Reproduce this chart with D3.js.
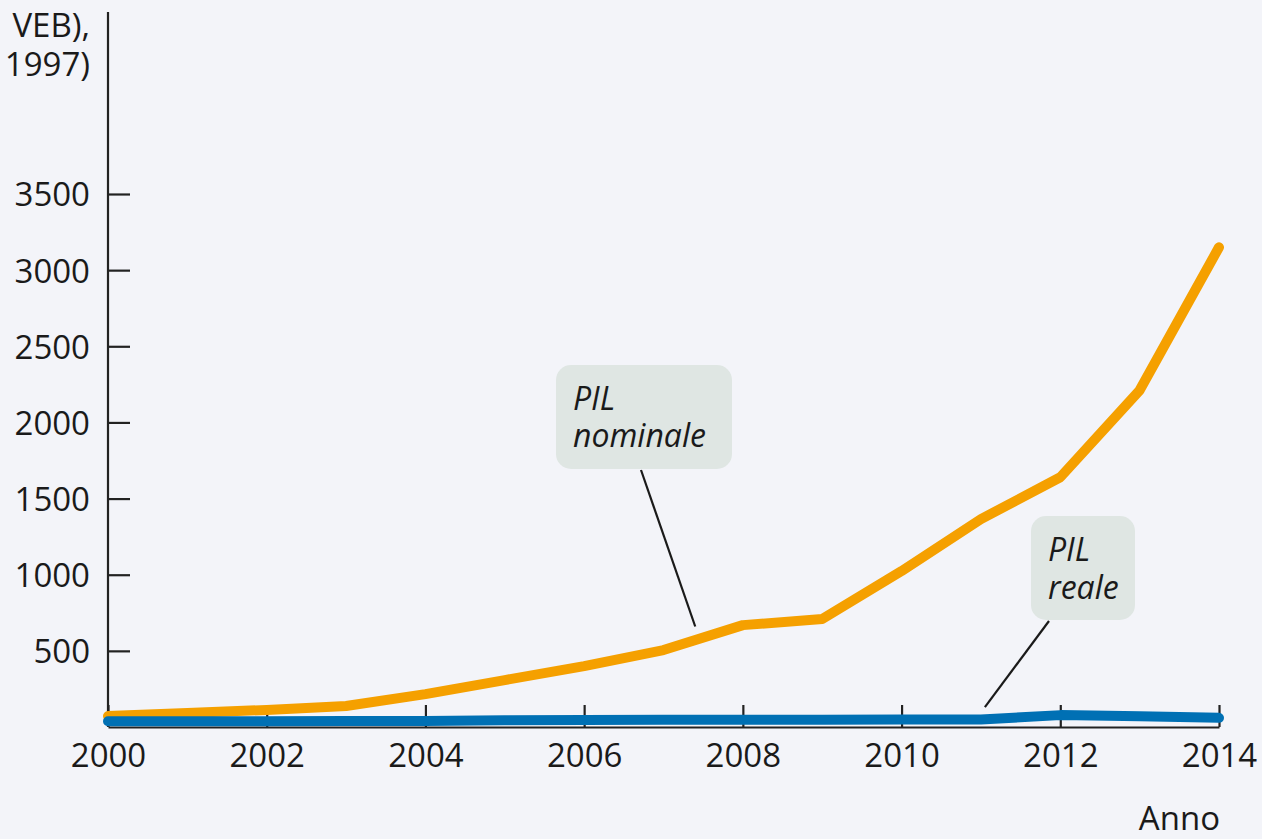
<!DOCTYPE html>
<html>
<head>
<meta charset="utf-8">
<script src="https://cdn.jsdelivr.net/npm/d3@7"></script>
<style>
  html, body { margin: 0; padding: 0; background: #f3f4f9; }
  svg { display: block; }
  text { font-family: "Open Sans", sans-serif; fill: #1a1a1a; }
</style>
</head>
<body>
<svg id="chart" width="1262" height="839"></svg>
<script>
const years = [2000, 2001, 2002, 2003, 2004, 2005, 2006, 2007, 2008, 2009, 2010, 2011, 2012, 2013, 2014];
const nominale = [72, 92, 112, 138, 216, 308, 400, 505, 669, 709, 1024, 1365, 1640, 2211, 3150];
const reale = [38, 38, 38, 39, 40, 45, 46, 47, 48, 48, 49, 50, 78, 70, 60];
const yTicks = [500, 1000, 1500, 2000, 2500, 3000, 3500];
const xTicks = [2000, 2002, 2004, 2006, 2008, 2010, 2012, 2014];
const yTitleLines = ["VEB),", "1997)"];
const xTitle = "Anno";
const annotations = [
  { lines: ["PIL", "nominale"], year: 2007.4, value: 660 },
  { lines: ["PIL", "reale"], year: 2011.05, value: 130 }
];

const svg = d3.select("#chart");
const x = d3.scaleLinear().domain([2000, 2014]).range([108, 1219]);
const y = d3.scaleLinear().domain([0, 3500]).range([727, 194]);
const FS = 33;

// y axis
const yAxis = svg.append("g").attr("transform", `translate(${x(2000)},0)`)
  .call(d3.axisLeft(y).tickValues(yTicks).tickSize(-22).tickPadding(18).tickFormat(d3.format("d")));
yAxis.select(".domain").remove();
yAxis.selectAll(".tick line").attr("stroke", "#222").attr("stroke-width", 2.2);
yAxis.selectAll(".tick text").attr("font-size", FS).attr("font-family", "Open Sans").attr("fill", "#1a1a1a").attr("dy", "0.36em");
svg.append("line").attr("x1", x(2000)).attr("x2", x(2000)).attr("y1", y(0)).attr("y2", 12)
  .attr("stroke", "#222").attr("stroke-width", 2.2);

// x axis
const xAxis = svg.append("g").attr("transform", `translate(0,${y(0)})`)
  .call(d3.axisBottom(x).tickValues(xTicks).tickSize(-22).tickSizeOuter(0).tickPadding(17).tickFormat(d3.format("d")));
xAxis.select(".domain").attr("stroke", "#222").attr("stroke-width", 2.2);
xAxis.selectAll(".tick line").attr("stroke", "#222").attr("stroke-width", 2.2);
xAxis.selectAll(".tick text").attr("font-size", FS).attr("font-family", "Open Sans").attr("fill", "#1a1a1a");

// lines
const line = d3.line().x((d, i) => x(years[i])).y(d => y(d));
svg.append("path").datum(nominale).attr("d", line).attr("fill", "none")
  .attr("stroke", "#f5a000").attr("stroke-width", 10).attr("stroke-linecap", "round").attr("stroke-linejoin", "round");
svg.append("path").datum(reale).attr("d", line).attr("fill", "none")
  .attr("stroke", "#0070b4").attr("stroke-width", 10).attr("stroke-linecap", "round").attr("stroke-linejoin", "round");

// annotations
const boxes = [
  { x0: 556, y0: 365, w: 176, h: 104, tx: 573, b1: 410, b2: 447, lx: 641, ly: 470 },
  { x0: 1031, y0: 516, w: 104, h: 104, tx: 1048, b1: 561, b2: 599, lx: 1049, ly: 621 }
];
annotations.forEach((a, i) => {
  const b = boxes[i];
  svg.append("line").attr("x1", b.lx).attr("y1", b.ly).attr("x2", x(a.year)).attr("y2", y(a.value))
    .attr("stroke", "#1a1a1a").attr("stroke-width", 2.2);
  svg.append("rect").attr("x", b.x0).attr("y", b.y0).attr("width", b.w).attr("height", b.h)
    .attr("rx", 15).attr("fill", "#dfe6e3");
  const t = svg.append("text").attr("font-size", 32).attr("font-style", "italic");
  t.append("tspan").attr("x", b.tx).attr("y", b.b1).text(a.lines[0]);
  t.append("tspan").attr("x", b.tx).attr("y", b.b2).text(a.lines[1]);
});

// titles
const yt = svg.append("text").attr("text-anchor", "end").attr("font-size", FS);
yt.append("tspan").attr("x", 90).attr("y", 37).text(yTitleLines[0]);
yt.append("tspan").attr("x", 90).attr("y", 76).text(yTitleLines[1]);
svg.append("text").attr("x", 1220).attr("y", 830).attr("text-anchor", "end").attr("font-size", FS).text(xTitle);
</script>
</body>
</html>
